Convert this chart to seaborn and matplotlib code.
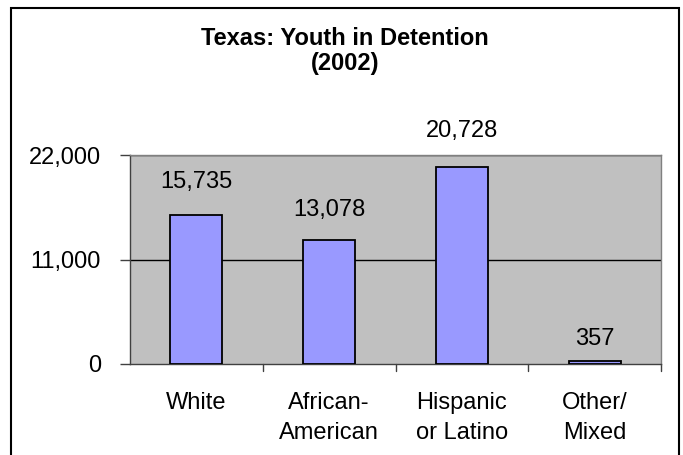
import matplotlib
matplotlib.use("Agg")
import matplotlib.pyplot as plt
import seaborn as sns
import pandas as pd
from matplotlib.patches import Rectangle

categories = ["White", "African-\nAmerican", "Hispanic\nor Latino", "Other/\nMixed"]
values = [15735, 13078, 20728, 357]
value_labels = ["15,735", "13,078", "20,728", "357"]
yticks = [0, 11000, 22000]
ytick_labels = ["0", "11,000", "22,000"]
title = "Texas: Youth in Detention\n(2002)"

sns.set_theme(style="white")
plt.rcParams['font.family'] = ['Liberation Sans', 'DejaVu Sans']
plt.rcParams['text.color'] = 'black'
plt.rcParams['xtick.color'] = 'black'
plt.rcParams['ytick.color'] = 'black'
plt.rcParams['axes.labelcolor'] = 'black'

FS = 17

fig = plt.figure(figsize=(6.83, 4.55), dpi=100)
ax = fig.add_axes([130/683, 1-364/455, (661-130)/683, (364-155)/455])

df = pd.DataFrame({"cat": categories, "val": values})
sns.barplot(data=df, x="cat", y="val", ax=ax, color="#9999FF", saturation=1,
            width=0.39, edgecolor="black", linewidth=1.3, zorder=3)

ax.set_facecolor("#C0C0C0")
ax.set_ylim(0, 22000)
ax.set_xlim(-0.5, len(categories) - 0.5)
ax.set_yticks(yticks)
ax.set_yticklabels(ytick_labels, fontsize=FS)
ax.set_xticks(range(len(categories)))
ax.set_xticklabels(categories, fontsize=FS, linespacing=1.5)
ax.set_xlabel("")
ax.set_ylabel("")

for y in yticks[1:]:
    ax.axhline(y, color="black", linewidth=1.0, zorder=1)

for s in ["top", "right"]:
    ax.spines[s].set_color("#808080")
    ax.spines[s].set_linewidth(1.0)
for s in ["left", "bottom"]:
    ax.spines[s].set_color("#404040")
    ax.spines[s].set_linewidth(1.0)

ax.tick_params(axis="y", which="both", length=7, width=1, color="#404040", pad=14, left=True)
ax.tick_params(axis="x", which="both", length=0, pad=20)
# category boundary tick marks
for b in [0.5, 1.5, 2.5, 3.5]:
    ax.plot([b, b], [0, -0.035], transform=ax.get_xaxis_transform(), color="#404040",
            linewidth=1, clip_on=False)

offsets = [33, 30, 36, 22]
for i, (v, lab) in enumerate(zip(values, value_labels)):
    ax.annotate(lab, (i, v), xytext=(0, offsets[i]), textcoords="offset pixels",
                ha="center", va="center", fontsize=FS, annotation_clip=False)

fig.text(345/683, 1-51/455, title, ha="center", va="center", fontsize=FS,
         fontweight="bold", linespacing=1.08)

fig.patches.append(Rectangle((11/683, -0.05), (679-11)/683, 1-8/455+0.05,
                             transform=fig.transFigure, fill=False,
                             edgecolor="black", linewidth=1.5))

fig.savefig("out.png", dpi=100)
